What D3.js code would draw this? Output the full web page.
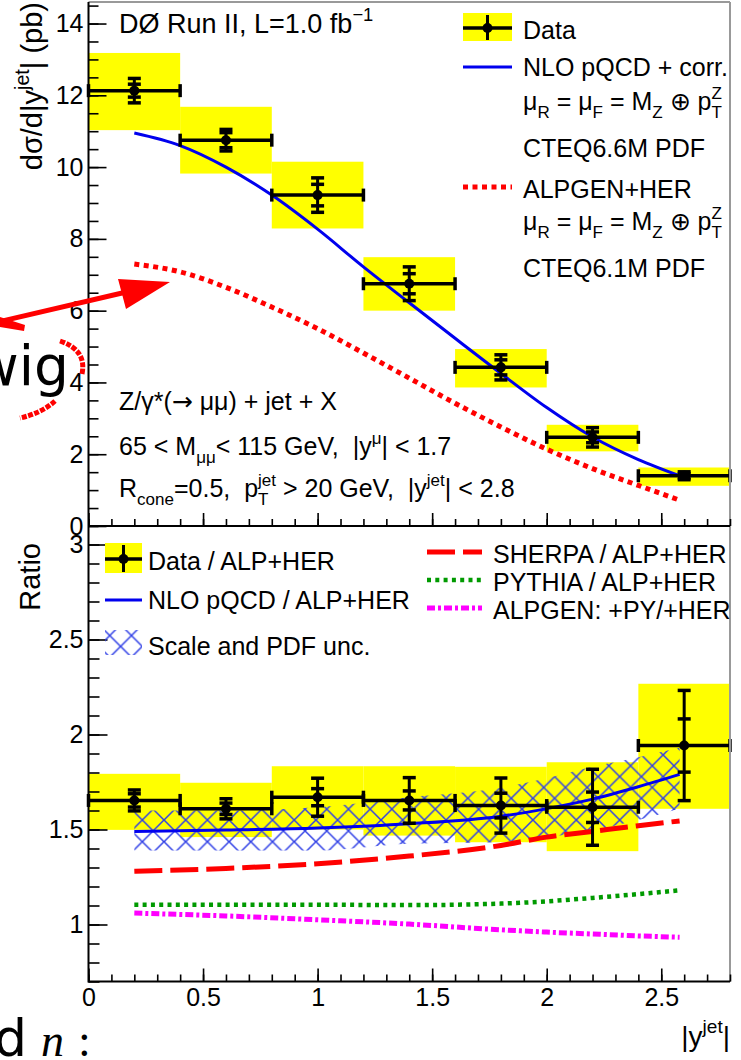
<!DOCTYPE html>
<html>
<head>
<meta charset="utf-8">
<script src="https://d3js.org/d3.v7.min.js"></script>
<style>
  body { margin: 0; background: #fff; }
  svg text { font-family: 'Liberation Sans', Arial, Helvetica, sans-serif; fill: #000; white-space: pre; }
</style>
</head>
<body>
<div id="chart"></div>
<script>
/* global d3 */

const binEdges = [0, 0.4, 0.8, 1.2, 1.6, 2.0, 2.4, 2.8];
const binCenters = [0.2, 0.6, 1.0, 1.4, 1.8, 2.2, 2.6];

// upper panel: dsigma/d|y jet| (pb)
const xsData = [12.13, 10.75, 9.22, 6.75, 4.42, 2.47, 1.40];
const xsStatErr = [0.18, 0.21, 0.30, 0.28, 0.21, 0.15, 0.06];
const xsTotErr = [0.34, 0.30, 0.48, 0.47, 0.35, 0.27, 0.11];
const xsSystLow = [11.03, 9.82, 8.29, 6.00, 3.86, 2.08, 1.12];
const xsSystHigh = [13.18, 11.68, 10.15, 7.49, 4.93, 2.82, 1.63];

const theoryX = [0.2, 0.4, 0.6, 0.8, 1.0, 1.2, 1.4, 1.6, 1.8, 2.0, 2.2, 2.4, 2.58];
const nloXs = [10.95, 10.6, 10.0, 9.22, 8.27, 7.22, 6.22, 5.23, 4.25, 3.3, 2.48, 1.85, 1.4];
const alpgenXs = [7.3, 7.08, 6.65, 6.1, 5.5, 4.82, 4.12, 3.42, 2.76, 2.14, 1.6, 1.13, 0.72];

// lower panel: ratio to ALPGEN+HERWIG
const ratioData = [1.653, 1.609, 1.67, 1.653, 1.626, 1.617, 1.942];
const ratioStatErr = [0.035, 0.03, 0.045, 0.05, 0.065, 0.08, 0.14];
const ratioTotErr = [0.055, 0.053, 0.10, 0.12, 0.145, 0.2, 0.29];
const ratioSystLow = [1.498, 1.46, 1.50, 1.468, 1.433, 1.386, 1.609];
const ratioSystHigh = [1.793, 1.746, 1.833, 1.833, 1.83, 1.854, 2.267];

const ratioX = [0.2, 0.6, 1.0, 1.4, 1.8, 2.0, 2.2, 2.4, 2.58];
const nloRatio = [1.49, 1.497, 1.508, 1.53, 1.57, 1.61, 1.66, 1.725, 1.79];
const nloBandLow = [1.39, 1.39, 1.39, 1.425, 1.433, 1.46, 1.495, 1.55, 1.61];
const nloBandHigh = [1.60, 1.60, 1.617, 1.67, 1.72, 1.77, 1.83, 1.88, 1.93];
const sherpaRatio = [1.28, 1.295, 1.32, 1.36, 1.416, 1.46, 1.49, 1.52, 1.545];
const pythiaRatio = [1.104, 1.104, 1.104, 1.102, 1.11, 1.122, 1.14, 1.16, 1.18];
const alpPyRatio = [1.06, 1.045, 1.025, 1.002, 0.972, 0.96, 0.95, 0.94, 0.933];

const xTicks = [0, 0.5, 1, 1.5, 2, 2.5];
const topYTicks = [0, 2, 4, 6, 8, 10, 12, 14];
const bottomYTicks = [1, 1.5, 2, 2.5, 3];

const width = 741;
const height = 1060;
const left = 88.5;
const right = 730;
const fs = 25;

const x = d3.scaleLinear().domain([0, 2.8]).range([left, right]);
const yTop = d3.scaleLinear().domain([0, 14.6]).range([526, 2]);
const yBot = d3.scaleLinear().domain([0.7, 3.1]).range([981.5, 525.5]);

const svg = d3.select('#chart')
  .append('svg')
  .attr('width', width)
  .attr('height', height);

// cross hatch for the scale / pdf band
const hp = 21.7;
const pat = svg.append('defs').append('pattern')
  .attr('id', 'hatch')
  .attr('patternUnits', 'userSpaceOnUse')
  .attr('x', 142.3)
  .attr('y', 820)
  .attr('width', hp)
  .attr('height', hp);
pat.append('path')
  .attr('d', `M-1,-1L${hp + 1},${hp + 1}M${hp + 1},-1L-1,${hp + 1}`)
  .attr('stroke', '#3040e6')
  .attr('stroke-width', 1.5)
  .attr('fill', 'none');

// text with sub / superscripts
const rich = (g, px, py, size, parts) => {
  const t = g.append('text').attr('x', px).attr('y', py).style('font-size', `${size}px`);
  let shift = 0;
  const small = size * 0.68;
  parts.forEach((p) => {
    if (typeof p === 'string') {
      t.append('tspan').attr('dy', -shift).text(p);
      shift = 0;
      return;
    }
    if (p.font !== undefined) {
      t.append('tspan').attr('dy', -shift).style('font-family', p.font).text(p.t);
      shift = 0;
      return;
    }
    let subW = 0;
    if (p.sub !== undefined) {
      const off = size * 0.33;
      const s = t.append('tspan').attr('dy', off - shift).style('font-size', `${small}px`).text(p.sub);
      subW = s.node().getComputedTextLength();
      shift = off;
    }
    if (p.sup !== undefined) {
      const off = -size * 0.45;
      const s = t.append('tspan').attr('dy', off - shift).style('font-size', `${small}px`).text(p.sup);
      if (subW) s.attr('dx', -subW);
      shift = off;
    }
  });
  return t;
};

// ---------- upper panel ----------
const topG = svg.append('g');

topG.selectAll('.syst')
  .data(binCenters)
  .join('rect')
  .attr('x', (d, i) => x(binEdges[i]))
  .attr('width', (d, i) => x(binEdges[i + 1]) - x(binEdges[i]))
  .attr('y', (d, i) => yTop(xsSystHigh[i]))
  .attr('height', (d, i) => yTop(xsSystLow[i]) - yTop(xsSystHigh[i]))
  .attr('fill', '#ffff00');

const topLine = d3.line()
  .x((d, i) => x(theoryX[i]))
  .y((d) => yTop(d))
  .curve(d3.curveMonotoneX);

topG.append('path')
  .attr('d', topLine(nloXs))
  .attr('fill', 'none')
  .attr('stroke', '#0000ee')
  .attr('stroke-width', 3);

topG.append('path')
  .attr('d', topLine(alpgenXs))
  .attr('fill', 'none')
  .attr('stroke', '#ff0000')
  .attr('stroke-width', 5)
  .attr('stroke-dasharray', '5,4.5');

const drawPoints = (g, y, vals, stat, tot) => {
  binCenters.forEach((c, i) => {
    const yy = y(vals[i]);
    const xc = x(c);
    g.append('line')
      .attr('x1', x(binEdges[i])).attr('x2', x(binEdges[i + 1]))
      .attr('y1', yy).attr('y2', yy)
      .attr('stroke', '#000').attr('stroke-width', 3.5);
    [binEdges[i], binEdges[i + 1]].forEach((e) => {
      g.append('line')
        .attr('x1', x(e)).attr('x2', x(e))
        .attr('y1', yy - 6.5).attr('y2', yy + 6.5)
        .attr('stroke', '#000').attr('stroke-width', 3.5);
    });
    g.append('line')
      .attr('x1', xc).attr('x2', xc)
      .attr('y1', y(vals[i] + tot[i])).attr('y2', y(vals[i] - tot[i]))
      .attr('stroke', '#000').attr('stroke-width', 3);
    [tot[i], stat[i]].forEach((err) => {
      [1, -1].forEach((s) => {
        g.append('line')
          .attr('x1', xc - 6.5).attr('x2', xc + 6.5)
          .attr('y1', y(vals[i] + s * err)).attr('y2', y(vals[i] + s * err))
          .attr('stroke', '#000').attr('stroke-width', 3.5);
      });
    });
    g.append('circle').attr('cx', xc).attr('cy', yy).attr('r', 5).attr('fill', '#000');
  });
};

drawPoints(topG, yTop, xsData, xsStatErr, xsTotErr);

// ---------- lower panel ----------
const botG = svg.append('g');

botG.selectAll('.syst')
  .data(binCenters)
  .join('rect')
  .attr('x', (d, i) => x(binEdges[i]))
  .attr('width', (d, i) => x(binEdges[i + 1]) - x(binEdges[i]))
  .attr('y', (d, i) => yBot(ratioSystHigh[i]))
  .attr('height', (d, i) => yBot(ratioSystLow[i]) - yBot(ratioSystHigh[i]))
  .attr('fill', '#ffff00');

const band = d3.area()
  .x((d, i) => x(ratioX[i]))
  .y0((d, i) => yBot(nloBandLow[i]))
  .y1((d, i) => yBot(nloBandHigh[i]))
  .curve(d3.curveMonotoneX);

botG.append('path')
  .attr('d', band(ratioX))
  .attr('fill', 'url(#hatch)');

const botLine = d3.line()
  .x((d, i) => x(ratioX[i]))
  .y((d) => yBot(d))
  .curve(d3.curveMonotoneX);

const ratioStyles = [
  { vals: nloRatio, color: '#0000ee', w: 3, dash: null },
  { vals: sherpaRatio, color: '#ff0000', w: 5, dash: '28,8' },
  { vals: pythiaRatio, color: '#009a00', w: 4.5, dash: '4,4.3' },
  { vals: alpPyRatio, color: '#ff00ff', w: 5, dash: '8,3,3,3' },
];

ratioStyles.forEach((s) => {
  botG.append('path')
    .attr('d', botLine(s.vals))
    .attr('fill', 'none')
    .attr('stroke', s.color)
    .attr('stroke-width', s.w)
    .attr('stroke-dasharray', s.dash);
});

drawPoints(botG, yBot, ratioData, ratioStatErr, ratioTotErr);

// ---------- frame and axes ----------
svg.append('line').attr('x1', left).attr('x2', right).attr('y1', 2).attr('y2', 2)
  .attr('stroke', '#999').attr('stroke-width', 2);
svg.append('line').attr('x1', right).attr('x2', right).attr('y1', 2).attr('y2', 982)
  .attr('stroke', '#999').attr('stroke-width', 2);

const styleAxis = (g) => {
  g.attr('font-family', null).attr('font-size', null);
  g.select('.domain').remove();
  g.selectAll('line').attr('stroke', '#000').attr('stroke-width', 1.6);
  g.selectAll('text').style('font-size', `${fs}px`);
};

const yAxis = (scale, majors, minors, majLen, minLen) => {
  svg.append('g')
    .attr('transform', `translate(${left},0)`)
    .call(d3.axisLeft(scale).tickValues(minors).tickSize(-minLen).tickFormat('').tickSizeOuter(0))
    .call(styleAxis);
  svg.append('g')
    .attr('transform', `translate(${left},0)`)
    .call(d3.axisLeft(scale).tickValues(majors).tickSize(-majLen).tickPadding(5)
      .tickFormat(d3.format('~g')).tickSizeOuter(0))
    .call(styleAxis);
};

yAxis(yTop, topYTicks, d3.range(0, 30).map((i) => i * 0.5).filter((v) => v < 14.6), 18, 10);
yAxis(yBot, bottomYTicks, d3.range(7, 32).map((i) => i / 10), 19, 11);

const xMinors = d3.range(0, 29).map((i) => i / 10);
[526, 981.5].forEach((yy, k) => {
  svg.append('g')
    .attr('transform', `translate(0,${yy})`)
    .call(d3.axisBottom(x).tickValues(xMinors).tickSize(-7).tickFormat('').tickSizeOuter(0))
    .call(styleAxis);
  svg.append('g')
    .attr('transform', `translate(0,${yy})`)
    .call(d3.axisBottom(x).tickValues(xTicks).tickSize(-13).tickPadding(7)
      .tickFormat(k === 1 ? d3.format('~g') : ''))
    .call(styleAxis);
});

svg.append('line').attr('x1', left).attr('x2', left).attr('y1', 2).attr('y2', 982.5)
  .attr('stroke', '#000').attr('stroke-width', 2);
[526, 981.5].forEach((yy) => {
  svg.append('line').attr('x1', left).attr('x2', right).attr('y1', yy).attr('y2', yy)
    .attr('stroke', '#000').attr('stroke-width', 2);
});

// axis titles
const yTitle = svg.append('g').attr('transform', 'translate(42,2) rotate(-90)');
rich(yTitle, 0, 0, 29, ['dσ/d|y', { sup: 'jet' }, '| (pb)']).attr('text-anchor', 'end');

svg.append('text')
  .attr('transform', 'translate(40,543) rotate(-90)')
  .attr('text-anchor', 'end')
  .style('font-size', '29px')
  .text('Ratio');

rich(svg, 730, 1046, 28, ['|y', { sup: 'jet' }, '|']).attr('text-anchor', 'end');

// ---------- upper panel texts and legend ----------
rich(svg, 119, 33, 27, ['DØ Run II, L=1.0 fb', { sup: '−1' }]);
rich(svg, 119, 410, fs, ['Z/γ*(', { t: '→', font: "'DejaVu Sans', sans-serif" }, ' μμ) + jet + X']);
rich(svg, 119, 455, fs, ['65 < M', { sub: 'μμ' }, '< 115 GeV,  |y', { sup: 'μ' }, '| < 1.7']);
rich(svg, 119, 497, fs, ['R', { sub: 'cone' }, '=0.5,  p', { sub: 'T', sup: 'jet' },
  ' > 20 GeV,  |y', { sup: 'jet' }, '| < 2.8']);

const lg = svg.append('g');
const lgX = 523;
lg.append('rect').attr('x', 463).attr('y', 13).attr('width', 49).attr('height', 28).attr('fill', '#ffff00');
lg.append('line').attr('x1', 463).attr('x2', 512).attr('y1', 28).attr('y2', 28).attr('stroke', '#000').attr('stroke-width', 3.5);
lg.append('line').attr('x1', 487.5).attr('x2', 487.5).attr('y1', 15).attr('y2', 40).attr('stroke', '#000').attr('stroke-width', 3);
lg.append('circle').attr('cx', 487.5).attr('cy', 28).attr('r', 5).attr('fill', '#000');
rich(lg, lgX, 39, fs, ['Data']);
lg.append('line').attr('x1', 463).attr('x2', 512).attr('y1', 67).attr('y2', 67).attr('stroke', '#0000ee').attr('stroke-width', 3);
rich(lg, lgX, 76, fs, ['NLO pQCD + corr.']);
const scaleLine = ['μ', { sub: 'R' }, ' = μ', { sub: 'F' }, ' = M', { sub: 'Z' }, ' ⊕ p', { sub: 'T', sup: 'Z' }];
rich(lg, lgX, 110, fs, scaleLine);
rich(lg, lgX, 157, fs, ['CTEQ6.6M PDF']);
lg.append('line').attr('x1', 463).attr('x2', 512).attr('y1', 187).attr('y2', 187).attr('stroke', '#ff0000')
  .attr('stroke-width', 5).attr('stroke-dasharray', '5,4.5');
rich(lg, lgX, 198, fs, ['ALPGEN+HER']);
rich(lg, lgX, 230, fs, scaleLine);
rich(lg, lgX, 277, fs, ['CTEQ6.1M PDF']);

// ---------- lower panel legend ----------
const lb = svg.append('g');
lb.append('rect').attr('x', 105).attr('y', 543).attr('width', 37).attr('height', 30).attr('fill', '#ffff00');
lb.append('line').attr('x1', 105).attr('x2', 142).attr('y1', 559).attr('y2', 559).attr('stroke', '#000').attr('stroke-width', 3.5);
lb.append('line').attr('x1', 123.5).attr('x2', 123.5).attr('y1', 545).attr('y2', 572).attr('stroke', '#000').attr('stroke-width', 3);
lb.append('circle').attr('cx', 123.5).attr('cy', 559).attr('r', 5).attr('fill', '#000');
rich(lb, 148, 570, fs, ['Data / ALP+HER']);
lb.append('line').attr('x1', 105).attr('x2', 142).attr('y1', 600).attr('y2', 600).attr('stroke', '#0000ee').attr('stroke-width', 3);
rich(lb, 148, 609, fs, ['NLO pQCD / ALP+HER']);
lb.append('rect').attr('x', 105).attr('y', 630).attr('width', 37).attr('height', 25).attr('fill', 'url(#hatch)');
rich(lb, 148, 655, fs, ['Scale and PDF unc.']);

const rightLegend = [
  { label: 'SHERPA / ALP+HER', y: 552, s: ratioStyles[1] },
  { label: 'PYTHIA / ALP+HER', y: 580, s: ratioStyles[2] },
  { label: 'ALPGEN: +PY/+HER', y: 608, s: ratioStyles[3] },
];
rightLegend.forEach((r) => {
  lb.append('line').attr('x1', 427).attr('x2', 482).attr('y1', r.y).attr('y2', r.y)
    .attr('stroke', r.s.color).attr('stroke-width', r.s.w).attr('stroke-dasharray', r.s.dash);
  rich(lb, 493, r.y + 11, fs, [r.label]);
});

// ---------- slide annotations on top of the figure ----------
const ann = svg.append('g');
ann.append('line').attr('x1', -2).attr('y1', 322).attr('x2', 135).attr('y2', 290)
  .attr('stroke', '#ff0000').attr('stroke-width', 5);
ann.append('polygon').attr('points', '170,282 118,279 126,309').attr('fill', '#ff0000');
ann.append('polygon').attr('points', '0,317 25,325 24,331 0,327').attr('fill', '#ff0000');
ann.append('text')
  .attr('x', 69).attr('y', 385)
  .attr('text-anchor', 'end')
  .style('font-family', "'DejaVu Sans', sans-serif")
  .style('font-size', '55px')
  .text('wig');
ann.append('path').attr('d', 'M60,341 Q87,350 82,374')
  .attr('fill', 'none').attr('stroke', '#ff0000').attr('stroke-width', 5).attr('stroke-dasharray', '5,1.5');
ann.append('path').attr('d', 'M55,401 Q42,413 20,418')
  .attr('fill', 'none').attr('stroke', '#ff0000').attr('stroke-width', 5).attr('stroke-dasharray', '5,1.5');
ann.append('text')
  .attr('x', -6).attr('y', 1056)
  .style('font-family', "'DejaVu Sans', sans-serif")
  .style('font-size', '52px')
  .text('d');
ann.append('text')
  .attr('x', 41).attr('y', 1056)
  .style('font-family', "'Liberation Serif', serif")
  .style('font-style', 'italic')
  .style('font-size', '46px')
  .text('n');
ann.append('text')
  .attr('x', 78).attr('y', 1056)
  .style('font-family', "'Liberation Serif', serif")
  .style('font-size', '46px')
  .text(':');
</script>
</body>
</html>
